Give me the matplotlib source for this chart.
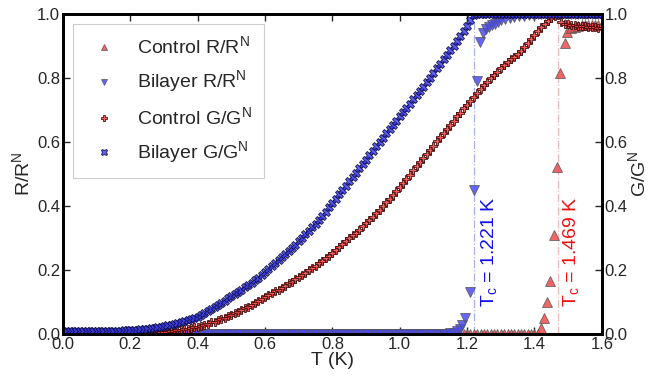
import numpy as np
import matplotlib
matplotlib.use("Agg")
from matplotlib import pyplot as plt

plt.rcParams['font.family'] = ['Liberation Sans', 'DejaVu Sans']
plt.rcParams['mathtext.fontset'] = 'custom'
plt.rcParams['mathtext.rm'] = 'Liberation Sans'
plt.rcParams['text.color'] = '#262626'
plt.rcParams['axes.labelcolor'] = '#262626'
plt.rcParams['xtick.color'] = '#262626'
plt.rcParams['ytick.color'] = '#262626'

# temperature grid of the conductance sweeps (K)
t_grid = np.round(np.arange(0, 1.601, 0.01), 2)

# normalised conductance, control film
control_g = [
    0, 0, 0, 0, 0, 0, 0, 0, 0, 0,
    0, 0, 0, 0, 0, 0, 0, 0, 0, 0,
    0, 0, 0, 0, 0, 0.001, 0.002, 0.003, 0.004, 0.005,
    0.006, 0.007, 0.009, 0.010, 0.012, 0.013, 0.015, 0.017, 0.019, 0.021,
    0.023, 0.026, 0.029, 0.032, 0.036, 0.039, 0.043, 0.047, 0.051, 0.055,
    0.060, 0.065, 0.070, 0.075, 0.080, 0.085, 0.091, 0.097, 0.103, 0.109,
    0.115, 0.121, 0.127, 0.133, 0.139, 0.145, 0.151, 0.158, 0.164, 0.171,
    0.178, 0.185, 0.192, 0.199, 0.206, 0.214, 0.221, 0.229, 0.237, 0.245,
    0.254, 0.263, 0.272, 0.281, 0.290, 0.299, 0.308, 0.317, 0.326, 0.336,
    0.346, 0.356, 0.367, 0.378, 0.389, 0.400, 0.411, 0.423, 0.435, 0.447,
    0.459, 0.472, 0.485, 0.498, 0.511, 0.524, 0.537, 0.550, 0.563, 0.576,
    0.589, 0.602, 0.615, 0.628, 0.641, 0.654, 0.667, 0.680, 0.692, 0.705,
    0.717, 0.729, 0.741, 0.753, 0.765, 0.777, 0.788, 0.799, 0.810, 0.820,
    0.830, 0.840, 0.849, 0.858, 0.867, 0.876, 0.886, 0.897, 0.909, 0.922,
    0.935, 0.948, 0.960, 0.970, 0.979, 0.987, 0.993, 0.998, 0.975, 0.970,
    0.968, 0.967, 0.965, 0.964, 0.963, 0.962, 0.961, 0.959, 0.958, 0.957,
    0.956,
]

# normalised conductance, bilayer
bilayer_g = [
    0.008, 0.008, 0.008, 0.008, 0.008, 0.008, 0.008, 0.008, 0.008, 0.008,
    0.008, 0.008, 0.009, 0.009, 0.009, 0.009, 0.010, 0.010, 0.011, 0.011,
    0.012, 0.013, 0.014, 0.015, 0.016, 0.017, 0.018, 0.020, 0.021, 0.023,
    0.025, 0.027, 0.029, 0.032, 0.034, 0.037, 0.040, 0.043, 0.046, 0.050,
    0.054, 0.060, 0.066, 0.072, 0.078, 0.084, 0.090, 0.097, 0.104, 0.111,
    0.118, 0.125, 0.132, 0.139, 0.146, 0.153, 0.160, 0.168, 0.176, 0.185,
    0.195, 0.204, 0.213, 0.222, 0.231, 0.240, 0.249, 0.259, 0.269, 0.279,
    0.290, 0.301, 0.312, 0.323, 0.334, 0.345, 0.357, 0.369, 0.381, 0.397,
    0.410, 0.423, 0.437, 0.450, 0.464, 0.477, 0.491, 0.504, 0.518, 0.531,
    0.545, 0.559, 0.573, 0.587, 0.600, 0.613, 0.627, 0.640, 0.654, 0.667,
    0.680, 0.693, 0.706, 0.720, 0.733, 0.746, 0.760, 0.773, 0.787, 0.800,
    0.815, 0.830, 0.845, 0.859, 0.873, 0.887, 0.901, 0.915, 0.930, 0.946,
    0.963, 0.982, 0.997, 1.0, 1.0, 1.0, 1.0, 1.0, 1.0, 1.0,
    1.0, 1.0, 1.0, 1.0, 1.0, 1.0, 1.0, 1.0, 1.0, 1.0,
    1.0, 1.0, 1.0, 1.0, 1.0, 1.0, 1.0, 1.0, 1.0, 1.0,
    1.0, 1.0, 1.0, 1.0, 1.0, 1.0, 1.0, 1.0, 1.0, 1.0,
    1.0,
]

# normalised resistance, control film (zero below the transition)
control_r_t = list(t_grid[:142]) + [1.418, 1.428, 1.438, 1.446, 1.457, 1.468, 1.477, 1.49, 1.498,
                                    1.51, 1.52, 1.53, 1.54, 1.55, 1.56, 1.57, 1.58, 1.59, 1.60]
control_r = [0.0] * 142 + [0.02, 0.05, 0.10, 0.167, 0.31, 0.523, 0.815, 0.908, 0.945,
                           0.955, 0.96, 0.963, 0.965, 0.966, 0.967, 0.967, 0.966, 0.966, 0.965]

# normalised resistance, bilayer
bilayer_r_t = list(t_grid[:115]) + [1.15, 1.16, 1.17, 1.18, 1.186, 1.193, 1.208, 1.22, 1.229, 1.238,
                                    1.247, 1.256, 1.265, 1.274, 1.282, 1.292, 1.302, 1.314, 1.327,
                                    1.34, 1.355, 1.37, 1.385, 1.40] + list(t_grid[141:])
bilayer_r = [0.0] * 115 + [0.002, 0.004, 0.008, 0.015, 0.028, 0.049, 0.132, 0.45, 0.79, 0.913,
                           0.94, 0.952, 0.96, 0.966, 0.97, 0.975, 0.98, 0.984, 0.987,
                           0.99, 0.993, 0.995, 0.997, 0.998] + [1.0] * 20

tc_bilayer = 1.221
tc_control = 1.469

red = '#ee4b4b'
blue = '#4b4bee'

fig = plt.figure(figsize=(6.52, 3.79), dpi=100)
ax = fig.add_axes([0.0966, 0.1187, 0.8264, 0.8443])
ax2 = ax.twinx()

ax.axvline(tc_bilayer, color='#aab0f0', linestyle='-.', linewidth=0.9, zorder=1)
ax.axvline(tc_control, color='#f5b8b8', linestyle='-.', linewidth=0.9, zorder=1)

h1, = ax.plot(control_r_t, control_r, linestyle='none', marker='^', ms=6.5,
              mfc=red, mec='#555555', mew=0.6, alpha=0.85, label='Control R/R$^\\mathregular{N}$')
h2, = ax.plot(bilayer_r_t, bilayer_r, linestyle='none', marker='v', ms=6.5,
              mfc=blue, mec='#555555', mew=0.6, alpha=0.85, label='Bilayer R/R$^\\mathregular{N}$')
h3, = ax2.plot(t_grid, control_g, linestyle='none', marker='P', ms=6,
               mfc='#f03a3a', mec='#3a0808', mew=0.7, alpha=0.8, label='Control G/G$^\\mathregular{N}$')
h4, = ax2.plot(t_grid, bilayer_g, linestyle='none', marker='X', ms=6,
               mfc='#3a3af0', mec='#08083a', mew=0.7, alpha=0.8, label='Bilayer G/G$^\\mathregular{N}$')

ax.text(1.238, 0.085, 'T$_\\mathregular{c}$ = 1.221 K', color='#1010ee', rotation=90,
        ha='left', va='bottom', fontsize=14)
ax.text(1.482, 0.085, 'T$_\\mathregular{c}$ = 1.469 K', color='#ee1010', rotation=90,
        ha='left', va='bottom', fontsize=14)

for a in (ax, ax2):
    a.set_xlim(0, 1.6)
    a.set_ylim(0, 1.0)
    a.set_xticks(np.arange(0, 1.61, 0.2))
    a.set_yticks(np.arange(0, 1.01, 0.2))
    for s in a.spines.values():
        s.set_linewidth(2)
    a.tick_params(direction='in', length=5, width=1, labelsize=12, pad=2)

ax.xaxis.set_major_formatter(plt.FormatStrFormatter('%.1f'))
ax.yaxis.set_major_formatter(plt.FormatStrFormatter('%.1f'))
ax2.yaxis.set_major_formatter(plt.FormatStrFormatter('%.1f'))
ax.tick_params(top=True, labeltop=False)

ax.set_xlabel('T (K)', fontsize=14, labelpad=0)
ax.set_ylabel('R/R$^\\mathregular{N}$', fontsize=14, labelpad=2)
ax2.set_ylabel('G/G$^\\mathregular{N}$', fontsize=14, labelpad=0)

leg = ax2.legend(handles=[h1, h2, h3, h4], loc='upper left', fontsize=14, numpoints=1,
                 markerscale=0.75, frameon=True, fancybox=False, edgecolor='#cccccc',
                 framealpha=1, borderpad=0.6, labelspacing=0.55, handletextpad=0.7,
                 borderaxespad=0.5)
leg.get_frame().set_linewidth(0.8)

fig.savefig('out.png', dpi=100)
